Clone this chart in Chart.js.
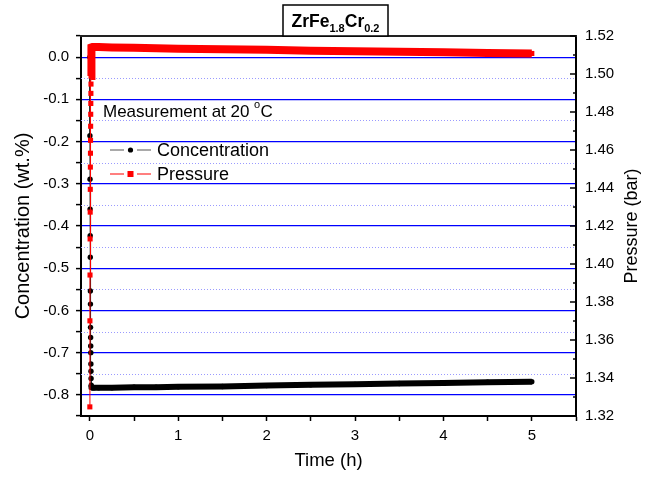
<!DOCTYPE html>
<html>
<head>
<meta charset="utf-8">
<script src="https://cdn.jsdelivr.net/npm/chart.js@4.4.0/dist/chart.umd.min.js"></script>
<style>
  html, body { margin: 0; padding: 0; background: #fff; }
</style>
</head>
<body>
<canvas id="myChart" width="651" height="477"></canvas>
<script>
  // time (h), shared by both series
  var time = [0, 0.001, 0.002, 0.003, 0.004, 0.005, 0.006, 0.007, 0.008, 0.009, 0.010, 0.011, 0.012, 0.013, 0.014, 0.016,
              0.02, 0.03, 0.05, 0.1, 0.25, 0.5, 0.75, 1.0, 1.5, 2.0, 2.5, 3.0, 3.5, 4.0, 4.5, 5.0];
  // concentration (wt.%)
  var concentration = [0.0, -0.186, -0.289, -0.36, -0.423, -0.474, -0.554, -0.585, -0.640, -0.664, -0.684, -0.700, -0.727, -0.744, -0.761, -0.777,
              -0.782, -0.783, -0.783, -0.783, -0.783, -0.782, -0.782, -0.781, -0.780, -0.778, -0.776, -0.775, -0.773, -0.772, -0.770, -0.769];
  // pressure (bar)
  var pressure = [1.3248, 1.3701, 1.3942, 1.4132, 1.4273, 1.4393, 1.4510, 1.4583, 1.4651, 1.4725, 1.4788, 1.4845, 1.4898, 1.4947, 1.4989, 1.505,
              1.514, 1.5142, 1.5142, 1.5142, 1.514, 1.5138, 1.5135, 1.5133, 1.513, 1.5127, 1.5123, 1.512, 1.5117, 1.5114, 1.5111, 1.5108];

  var seriesLabels = ['Concentration', 'Pressure'];
  var titleParts = ['ZrFe', '1.8', 'Cr', '0.2'];   // normal, subscript, normal, subscript
  var noteText = 'Measurement at 20';
  var xTitle = 'Time (h)';
  var yTitle = 'Concentration (wt.%)';
  var y2Title = 'Pressure (bar)';

  var FONT = "'Liberation Sans', Arial, sans-serif";
  Chart.defaults.font.family = FONT;
  Chart.defaults.color = '#000';

  function isMult(v, step) {
    var q = v / step;
    return Math.abs(q - Math.round(q)) < 1e-6;
  }

  var concData = time.map(function (t, i) { return { x: t, y: concentration[i] }; });
  var presData = time.map(function (t, i) { return { x: t, y: pressure[i] }; });

  // extras drawn around the plot: frame top, minor dotted grid, inward right ticks, title box, note, legend
  var extras = {
    id: 'extras',
    beforeDatasetsDraw: function (chart) {
      var ctx = chart.ctx, a = chart.chartArea, ys = chart.scales.y;
      ctx.save();
      ctx.strokeStyle = '#9a9aff';
      ctx.lineWidth = 1;
      ctx.setLineDash([1, 2]);
      ys.ticks.forEach(function (t) {
        if (isMult(t.value, 0.1)) return;
        var py = Math.round(ys.getPixelForValue(t.value)) + 0.5;
        if (py <= a.top + 1 || py >= a.bottom - 1) return;
        ctx.beginPath();
        ctx.moveTo(a.left, py);
        ctx.lineTo(a.right, py);
        ctx.stroke();
      });
      ctx.restore();
    },
    afterDraw: function (chart) {
      var ctx = chart.ctx, a = chart.chartArea;
      ctx.save();
      // top frame
      ctx.strokeStyle = '#222';
      ctx.lineWidth = 2;
      ctx.beginPath();
      ctx.moveTo(a.left - 1, a.top);
      ctx.lineTo(a.right + 1, a.top);
      ctx.stroke();

      // right axis ticks pointing inward
      var y2 = chart.scales.y2;
      ctx.strokeStyle = '#000';
      ctx.lineWidth = 1.5;
      y2.ticks.forEach(function (t) {
        var py = y2.getPixelForValue(t.value);
        var len = isMult(t.value, 0.02) ? 6 : 3;
        ctx.beginPath();
        ctx.moveTo(a.right - len, py);
        ctx.lineTo(a.right, py);
        ctx.stroke();
      });

      // right axis title, reading bottom to top
      ctx.fillStyle = '#000';
      ctx.font = '18px ' + FONT;
      ctx.textAlign = 'center';
      ctx.textBaseline = 'middle';
      ctx.translate(632, (a.top + a.bottom) / 2);
      ctx.rotate(-Math.PI / 2);
      ctx.fillText(y2Title, 0, 0);
      ctx.setTransform(1, 0, 0, 1, 0, 0);

      // title box with subscripts
      var big = 'bold 17.5px ' + FONT, small = 'bold 11px ' + FONT;
      ctx.textAlign = 'left';
      ctx.textBaseline = 'alphabetic';
      var widths = titleParts.map(function (p, i) {
        ctx.font = i % 2 ? small : big;
        return ctx.measureText(p).width;
      });
      var total = widths.reduce(function (s, w) { return s + w; }, 0);
      var bx0 = 283, bx1 = 388, by0 = 5, by1 = 36;
      ctx.fillStyle = '#fff';
      ctx.fillRect(bx0, by0, bx1 - bx0, by1 - by0);
      ctx.strokeStyle = '#000';
      ctx.lineWidth = 1.5;
      ctx.strokeRect(bx0, by0, bx1 - bx0, by1 - by0);
      var tx = (bx0 + bx1) / 2 - total / 2;
      ctx.fillStyle = '#000';
      titleParts.forEach(function (p, i) {
        ctx.font = i % 2 ? small : big;
        ctx.fillText(p, tx, i % 2 ? 32 : 27);
        tx += widths[i];
      });

      // note with superscript degree mark
      ctx.font = '17px ' + FONT;
      ctx.fillText(noteText, 103, 117);
      var nx = 103 + ctx.measureText(noteText).width + 4.5;
      ctx.font = '11px ' + FONT;
      ctx.fillText('o', nx, 108);
      nx += ctx.measureText('o').width + 0.5;
      ctx.font = '17px ' + FONT;
      ctx.fillText('C', nx, 117);

      // legend
      ctx.font = '18px ' + FONT;
      ctx.textBaseline = 'middle';
      var rows = [150, 174];
      chart.data.datasets.forEach(function (ds, i) {
        var ly = rows[i];
        ctx.strokeStyle = ds.legendLine;
        ctx.lineWidth = 1.2;
        ctx.beginPath();
        ctx.moveTo(110, ly); ctx.lineTo(124, ly);
        ctx.moveTo(137, ly); ctx.lineTo(151, ly);
        ctx.stroke();
        ctx.fillStyle = ds.pointBackgroundColor;
        if (ds.pointStyle === 'rect') {
          ctx.fillRect(127.5, ly - 3, 6, 6);
        } else {
          ctx.beginPath();
          ctx.arc(130.5, ly, 2.6, 0, Math.PI * 2);
          ctx.fill();
        }
        ctx.fillStyle = '#000';
        ctx.fillText(ds.label, 157, ly + 1);
      });
      ctx.restore();
    }
  };

  var ctx = document.getElementById('myChart');
  var chart = new Chart(ctx, {
    type: 'line',
    data: {
      datasets: [{
        label: seriesLabels[0],
        data: concData,
        yAxisID: 'y',
        order: 1,
        borderColor: '#222',
        legendLine: '#555',
        borderWidth: 1,
        pointStyle: 'circle',
        pointRadius: 2.7,
        pointBorderWidth: 0,
        pointBackgroundColor: '#000',
        tension: 0,
        segment: {
          borderWidth: function (c) { return c.p0.parsed.x >= 0.016 ? 6 : 1; },
          borderColor: function (c) { return c.p0.parsed.x >= 0.016 ? '#000' : '#222'; }
        }
      }, {
        label: seriesLabels[1],
        data: presData,
        yAxisID: 'y2',
        order: 0,
        borderColor: '#ff0000',
        legendLine: '#ff0000',
        borderWidth: 1,
        pointStyle: 'rect',
        pointRadius: 3.6,
        pointBorderWidth: 0,
        pointBackgroundColor: '#ff0000',
        tension: 0,
        segment: {
          borderWidth: function (c) { return c.p0.parsed.x >= 0.014 ? 8 : 1; }
        }
      }]
    },
    options: {
      responsive: false,
      animation: false,
      layout: { padding: { top: 36, left: 0, right: 0, bottom: 0 } },
      plugins: { legend: { display: false }, tooltip: { enabled: false }, title: { display: false } },
      scales: {
        x: {
          type: 'linear',
          min: -0.1,
          max: 5.5,
          afterFit: function (s) { s.height = 61; },
          ticks: {
            stepSize: 0.5,
            includeBounds: false,
            autoSkip: false,
            maxRotation: 0,
            padding: 6,
            font: { size: 15 },
            color: '#000',
            callback: function (v) { return isMult(v, 1) ? Math.round(v) : ''; }
          },
          grid: { drawOnChartArea: false, tickLength: 5, tickWidth: 1.5, tickColor: '#000' },
          border: { color: '#000', width: 2 },
          title: { display: true, text: xTitle, font: { size: 18.5 }, color: '#000', padding: { top: 0, bottom: 5 } }
        },
        y: {
          position: 'left',
          min: -0.85,
          max: 0.05,
          afterFit: function (s) { s.width = 81; },
          ticks: {
            stepSize: 0.05,
            autoSkip: false,
            padding: 7,
            font: { size: 15 },
            color: '#000',
            callback: function (v) {
              if (!isMult(v, 0.1) || v > 0.001 || v < -0.801) return '';
              return (Math.abs(v) < 1e-9 ? 0 : v).toFixed(1);
            }
          },
          grid: {
            color: function (c) { return c.tick && isMult(c.tick.value, 0.1) ? '#0000ff' : 'rgba(0,0,0,0)'; },
            lineWidth: 1.2,
            tickLength: 5,
            tickWidth: 1.5,
            tickColor: '#000'
          },
          border: { color: '#000', width: 2 },
          title: { display: true, text: yTitle, font: { size: 20 }, color: '#000', padding: { top: 11, bottom: 4 } }
        },
        y2: {
          position: 'right',
          min: 1.32,
          max: 1.52,
          afterFit: function (s) { s.width = 75; },
          ticks: {
            stepSize: 0.01,
            autoSkip: false,
            padding: 9,
            font: { size: 15 },
            color: '#000',
            callback: function (v) { return isMult(v, 0.02) ? v.toFixed(2) : ''; }
          },
          grid: { drawOnChartArea: false, drawTicks: false },
          border: { color: '#000', width: 2 },
          title: { display: false }
        }
      }
    },
    plugins: [extras]
  });
</script>
</body>
</html>
